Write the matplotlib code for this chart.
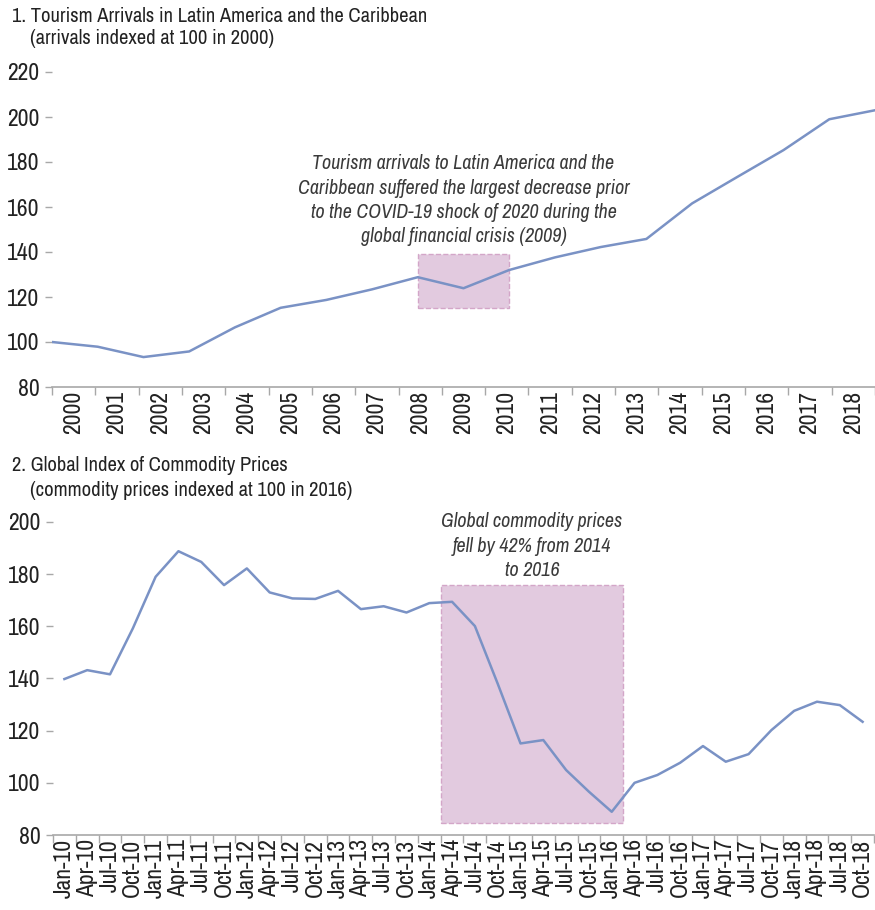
import numpy as np
import matplotlib
matplotlib.use("Agg")
import matplotlib.pyplot as plt
from matplotlib.patches import Rectangle

plt.rcParams['font.family'] = ['Archivo Narrow', 'Liberation Sans Narrow', 'DejaVu Sans']

# panel 1: tourism arrivals, index 2000 = 100
years = [str(y) for y in range(2000, 2019)]
arrivals = [100, 97.9, 93.3, 95.8, 106.5, 115.2, 118.7, 123.4, 128.8, 123.9,
            132.0, 137.6, 142.2, 145.8, 161.6, 173.5, 185.3, 199.0, 203.0]
crisis_years = ('2008', '2010')
crisis_range = (115, 139)
note1 = ("Tourism arrivals to Latin America and the\n"
         "Caribbean suffered the largest decrease prior\n"
         "to the COVID-19 shock of 2020 during the\n"
         "global financial crisis (2009)")

# panel 2: commodity price index, 2016 = 100
quarters = []
for yr in range(10, 19):
    for m in ['Jan', 'Apr', 'Jul', 'Oct']:
        quarters.append(f'{m}-{yr}')
prices = [139.8, 143.2, 141.6, 159.2, 179.0, 188.8, 184.7, 175.8, 182.2, 173.0,
          170.7, 170.5, 173.6, 166.6, 167.7, 165.3, 168.9, 169.4, 160.1, 138.0,
          115.1, 116.4, 104.9, 96.6, 88.9, 100.0, 103.0, 107.7, 114.1, 108.1,
          111.0, 120.2, 127.6, 131.1, 129.8, 123.4]
fall_quarters = ('Apr-14', 'Jan-16')
fall_range = (84.5, 176)
note2 = "Global commodity prices\nfell by 42% from 2014\nto 2016"

line_col = '#7a92c5'
box_fill = '#e2cadf'
box_edge = '#d3a6c8'
axis_col = '#a8a8a8'
txt_col = '#222222'
note_col = '#3a3a3a'

fig = plt.figure(figsize=(8.75, 9.1), dpi=100)
ax1 = fig.add_axes([52 / 875, 1 - 387 / 910, 823 / 875, 315 / 910])
ax2 = fig.add_axes([53 / 875, 1 - 835 / 910, 821 / 875, 313 / 910])


def style(ax):
    for s in ['top', 'right', 'left']:
        ax.spines[s].set_visible(False)
    ax.spines['bottom'].set_color(axis_col)
    ax.spines['bottom'].set_linewidth(1.2)
    ax.tick_params(axis='y', colors=axis_col, labelcolor=txt_col, labelsize=17,
                   length=5, width=1, pad=4)
    ax.tick_params(axis='x', which='major', colors=axis_col, length=6, width=1)
    ax.tick_params(axis='x', which='minor', length=0, labelcolor=txt_col,
                   labelsize=17, pad=3)


# top chart: line runs edge to edge, labels sit between ticks
n = len(years)
x1 = np.arange(n)
ax1.plot(x1, arrivals, color=line_col, lw=1.8, zorder=3)
ax1.set_xlim(0, n - 1)
ax1.set_ylim(80, 220)
ax1.set_yticks(range(80, 221, 20))
step = (n - 1) / n
ax1.set_xticks(np.arange(n + 1) * step)
ax1.set_xticklabels([])
ax1.set_xticks((np.arange(n) + 0.5) * step, minor=True)
ax1.set_xticklabels(years, minor=True, rotation=90)
style(ax1)
b0, b1 = years.index(crisis_years[0]), years.index(crisis_years[1])
ax1.add_patch(Rectangle((b0, crisis_range[0]), b1 - b0, crisis_range[1] - crisis_range[0],
                        facecolor=box_fill, edgecolor=box_edge, ls='--', lw=1, zorder=2))
ax1.text((b0 + b1) / 2, 163, note1, ha='center', va='center', style='italic',
         fontsize=14.4, color=note_col, linespacing=1.36)

# bottom chart: categorical quarters
x2 = np.arange(len(quarters))
ax2.plot(x2, prices, color=line_col, lw=1.8, zorder=3)
ax2.set_xlim(-0.5, len(quarters) - 0.5)
ax2.set_ylim(80, 200)
ax2.set_yticks(range(80, 201, 20))
ax2.set_xticks(np.arange(len(quarters) + 1) - 0.5)
ax2.set_xticklabels([])
ax2.set_xticks(x2, minor=True)
ax2.set_xticklabels(quarters, minor=True, rotation=90)
style(ax2)
q0, q1 = quarters.index(fall_quarters[0]) - 0.5, quarters.index(fall_quarters[1]) + 0.5
ax2.add_patch(Rectangle((q0, fall_range[0]), q1 - q0, fall_range[1] - fall_range[0],
                        facecolor=box_fill, edgecolor=box_edge, ls='--', lw=1, zorder=2))
ax2.text((q0 + q1) / 2, 190.7, note2, ha='center', va='center', style='italic',
         fontsize=14.4, color=note_col, linespacing=1.36)

# titles
fig.text(12 / 875, 1 - 16 / 910, '1. Tourism Arrivals in Latin America and the Caribbean',
         fontsize=14.8, color=txt_col, va='center')
fig.text(30 / 875, 1 - 39 / 910, '(arrivals indexed at 100 in 2000)',
         fontsize=14.8, color=txt_col, va='center')
fig.text(12 / 875, 1 - 466 / 910, '2. Global Index of Commodity Prices',
         fontsize=14.8, color=txt_col, va='center')
fig.text(30 / 875, 1 - 490 / 910, '(commodity prices indexed at 100 in 2016)',
         fontsize=14.8, color=txt_col, va='center')

fig.savefig('out.png', dpi=100)
